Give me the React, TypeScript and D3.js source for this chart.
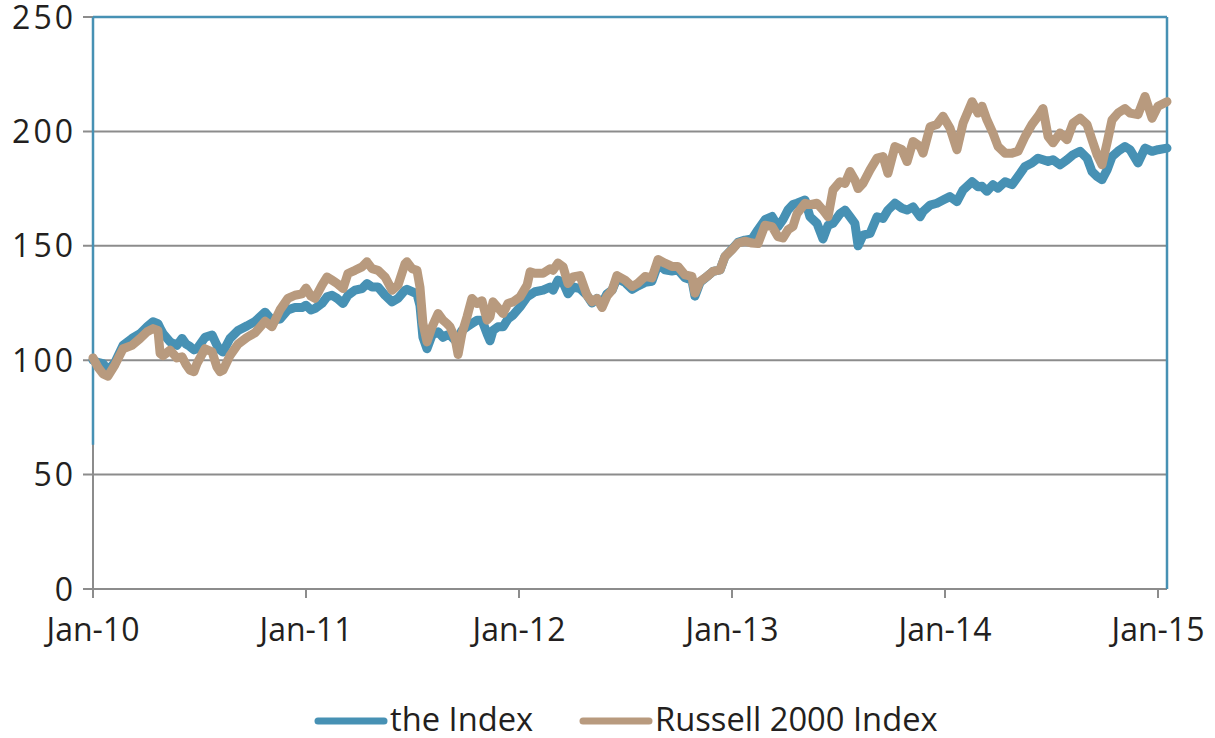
import React from "react";
import * as d3 from "d3";

const years = [2010.000,2010.023,2010.047,2010.070,2010.103,2010.141,2010.183,2010.221,2010.254,2010.282,2010.305,2010.315,2010.329,2010.362,2010.394,2010.418,2010.437,2010.455,2010.474,2010.488,2010.526,2010.559,2010.582,2010.596,2010.610,2010.643,2010.681,2010.723,2010.761,2010.808,2010.840,2010.878,2010.915,2010.948,2010.981,2011.000,2011.023,2011.042,2011.075,2011.099,2011.122,2011.146,2011.174,2011.197,2011.230,2011.263,2011.286,2011.310,2011.338,2011.371,2011.404,2011.432,2011.465,2011.474,2011.498,2011.521,2011.535,2011.549,2011.568,2011.592,2011.620,2011.643,2011.662,2011.676,2011.700,2011.714,2011.732,2011.756,2011.779,2011.803,2011.826,2011.850,2011.864,2011.878,2011.901,2011.925,2011.948,2011.972,2012.005,2012.038,2012.052,2012.075,2012.113,2012.146,2012.160,2012.183,2012.207,2012.230,2012.254,2012.286,2012.319,2012.343,2012.366,2012.390,2012.413,2012.437,2012.460,2012.498,2012.531,2012.559,2012.592,2012.624,2012.653,2012.685,2012.718,2012.746,2012.779,2012.812,2012.826,2012.850,2012.883,2012.911,2012.944,2012.967,2013.000,2013.028,2013.061,2013.094,2013.122,2013.155,2013.188,2013.216,2013.239,2013.263,2013.286,2013.305,2013.343,2013.366,2013.399,2013.427,2013.451,2013.474,2013.507,2013.531,2013.554,2013.577,2013.592,2013.615,2013.648,2013.681,2013.709,2013.732,2013.765,2013.798,2013.822,2013.850,2013.883,2013.897,2013.930,2013.962,2013.991,2014.023,2014.056,2014.085,2014.127,2014.155,2014.174,2014.197,2014.225,2014.249,2014.282,2014.315,2014.343,2014.376,2014.408,2014.437,2014.460,2014.484,2014.507,2014.540,2014.573,2014.601,2014.634,2014.667,2014.690,2014.714,2014.737,2014.761,2014.784,2014.812,2014.845,2014.869,2014.906,2014.939,2014.972,2015.000,2015.042];

const theIndex = [100,99,98.5,95.6,99,106.5,109.5,111.6,114.6,116.8,116,114,111.6,108,106.5,109.5,107,106,104.5,105,110,111,106.5,104.5,103.6,109.5,113,115,117,121,117.5,118,122,123,123,124,122,122.6,124.8,127.7,128.4,127,124.8,128.4,130.6,131.3,133.5,132,132,128.4,125.5,127,130.6,131,130,129,124,110,105,111,112.4,110,111,111,108.7,110,113,114.6,116,117.5,117.5,111.6,108.5,113,114.6,114.6,118,119.7,123.3,127.7,128.5,129.9,130.6,132,130.6,135,134,129,132,131.3,128.4,125,127,124.8,129,130.6,135.7,134,131,132.5,134,134.5,142,139.5,139,139.5,136,135,128,134,136.6,138.8,139.5,145.3,148.5,151.5,152.5,153,157,161.4,162.8,158.4,161.4,165.7,168,168.6,170,162.7,159.8,153,159,159.8,164,165.6,162.7,159.8,150,154.7,155.4,162.7,162,165.6,168.6,166.4,165.6,167,162.7,165,167.8,168.6,170,171.5,169.3,174.4,178,175.8,176,173.8,176.7,175.2,178,176.7,180.3,184.7,186.2,188.3,187.6,186.9,187.6,185.4,187.6,189.8,191.3,188.3,182.5,180.3,178.9,183.2,189,191.3,193.4,192,186.2,192.7,191.3,192,192.7];

const russell = [101,97,94,93,98,105,106.5,109.5,112.4,113.8,113,103,102,104.4,101,101.5,98,95.6,95,98.5,105,103.6,97,95,95.6,102,107,110,112,117,114.6,122,127,128.4,129,131.5,128,127,132.8,136.4,135,133.5,131.3,137.9,139.3,140.8,143,140,139.3,136.4,130.6,132.8,142.2,143,140,139.3,132,116,108,114.6,120.4,117.5,116,114.6,109.5,102.5,111.6,119,127,124.8,126,117.5,119,125.5,123,120.4,124.8,125.5,127.7,132.8,138.6,138,138,140,139.3,142.5,140.8,133.5,136.4,137,128.4,125.5,127,123,128,130.6,137,135,132.2,133.7,136.6,136,144,142.4,141,141,137.3,136.6,129.3,134.4,136.6,138.8,139.5,145.3,148.3,151.2,152,151.2,151,159,158.4,154,153.4,157,158.4,164,168.6,168,168.6,165.6,162.7,174.4,178,177.3,182.5,178.8,175,177.3,183.2,188.3,189,181.7,193.4,192,186.8,195.6,193.4,190.5,202,203,206.6,201.5,192,203.7,213,208,211,205,199.3,193.4,190.5,190.5,191.3,197.8,203,206.6,210,197.8,195,199.3,196.4,203.6,205.8,203,196.4,189.8,185.4,195,205,208,210,208,207.3,215.3,205.8,211,213];

const yTicks = [0, 50, 100, 150, 200, 250];
const xTicks = [2010, 2011, 2012, 2013, 2014, 2015];
const xTickLabels = ["Jan-10", "Jan-11", "Jan-12", "Jan-13", "Jan-14", "Jan-15"];
const seriesNames = ["the Index", "Russell 2000 Index"];
const seriesColors = ["#4791b4", "#b89a7e"];

export default function App() {
  const W = 1215, H = 738;
  const left = 93, top = 17, bottom = 589, right = 1167;
  const x = d3.scaleLinear().domain([2010, 2015]).range([left, 1158]);
  const y = d3.scaleLinear().domain([0, 250]).range([bottom, top]);
  const line = d3
    .line<number>()
    .x((_, i) => x(years[i]))
    .y((d) => y(d))
    .curve(d3.curveLinear);
  const font = "'Open Sans', 'Noto Sans', sans-serif";
  const grid = "#8c8c8c";
  const blue = seriesColors[0];
  const txt = "#231f20";

  return (
    <svg
      width={W}
      height={H}
      style={{ position: "absolute", left: 0, top: 0, background: "#fff" }}
      fontFamily={font}
    >
      {yTicks.map((t) => (
        <g key={t}>
          <line x1={left - 10} x2={right} y1={y(t)} y2={y(t)} stroke={grid} strokeWidth={2} />
          <text x={76} y={y(t)} dy="0.36em" textAnchor="end" fontSize={32} letterSpacing={3} fill={txt}>
            {t}
          </text>
        </g>
      ))}
      <line x1={left} x2={left} y1={top} y2={bottom + 9} stroke={grid} strokeWidth={2} />
      {xTicks.map((t, i) => (
        <g key={t}>
          <line x1={x(t)} x2={x(t)} y1={bottom} y2={bottom + 9} stroke={grid} strokeWidth={2} />
          <text x={x(t)} y={641} textAnchor="middle" fontSize={32} fill={txt}>
            {xTickLabels[i]}
          </text>
        </g>
      ))}
      <line x1={left} x2={right} y1={top} y2={top} stroke={blue} strokeWidth={2.5} />
      <line x1={right} x2={right} y1={top} y2={bottom} stroke={blue} strokeWidth={2.5} />
      <line x1={left} x2={left} y1={top} y2={y(63)} stroke={blue} strokeWidth={2.5} />

      <path d={line(theIndex) || ""} fill="none" stroke={seriesColors[0]} strokeWidth={9} strokeLinejoin="round" strokeLinecap="round" />
      <path d={line(russell) || ""} fill="none" stroke={seriesColors[1]} strokeWidth={9} strokeLinejoin="round" strokeLinecap="round" />

      <line x1={318} x2={384} y1={721} y2={721} stroke={seriesColors[0]} strokeWidth={7} strokeLinecap="round" />
      <text x={390} y={731} fontSize={32.7} fill={txt}>{seriesNames[0]}</text>
      <line x1={583} x2={649} y1={721} y2={721} stroke={seriesColors[1]} strokeWidth={7} strokeLinecap="round" />
      <text x={655} y={731} fontSize={32.7} fill={txt}>{seriesNames[1]}</text>
    </svg>
  );
}
